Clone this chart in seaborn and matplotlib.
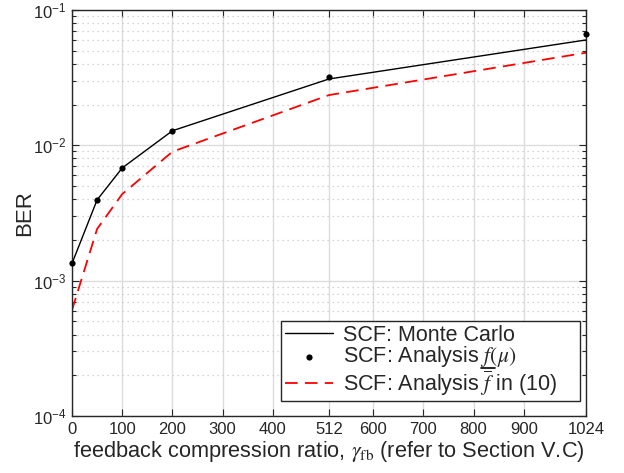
import matplotlib
matplotlib.use("Agg")
import matplotlib.pyplot as plt
import seaborn as sns
import pandas as pd
from matplotlib.ticker import LogLocator, FixedLocator, NullFormatter
from matplotlib.text import Text
from matplotlib.lines import Line2D

sns.set_theme(style="white")
plt.rcParams['font.family'] = ['Liberation Sans', 'DejaVu Sans']
plt.rcParams['mathtext.fontset'] = 'stix'

ratio = [0, 50, 100, 200, 512, 1024]
mc_line = [1.34e-3, 3.95e-3, 6.8e-3, 1.28e-2, 3.09e-2, 6.0e-2]
mc_points = [1.34e-3, 3.95e-3, 6.8e-3, 1.28e-2, 3.19e-2, 6.65e-2]
analysis_bar = [6.07e-4, 2.41e-3, 4.36e-3, 8.97e-3, 2.35e-2, 4.83e-2]
xticks = [0, 100, 200, 300, 400, 512, 600, 700, 800, 900, 1024]

df = pd.DataFrame({"ratio": ratio, "mc": mc_line, "pts": mc_points, "bar": analysis_bar})

fig = plt.figure(figsize=(6.24, 4.73), dpi=100)
ax = fig.add_axes([0.1154, 0.1205, 0.8237, 0.8585])
ax.set_yscale('log')

sns.lineplot(data=df, x="ratio", y="mc", ax=ax, color="black", linewidth=1.0,
             label="SCF: Monte Carlo")
sns.scatterplot(data=df, x="ratio", y="pts", ax=ax, color="black", s=20,
                edgecolor="black", linewidth=0, label=r"SCF: Analysis $f(\mu)$", zorder=5, clip_on=False)
sns.lineplot(data=df, x="ratio", y="bar", ax=ax, color="red", linewidth=1.3,
             linestyle=(0, (7, 4)), label=r"SCF: Analysis $\overline{f}$ in (10)    ")

ax.set_xlim(0, 1024)
ax.set_ylim(1e-4, 1e-1)
ax.xaxis.set_major_locator(FixedLocator(xticks))
ax.set_xticklabels([str(t) for t in xticks])
ax.yaxis.set_major_locator(LogLocator(base=10, numticks=10))
ax.yaxis.set_minor_locator(LogLocator(base=10, subs=range(2, 10), numticks=50))
ax.yaxis.set_minor_formatter(NullFormatter())

ax.grid(True, which='major', color='#dcdcdc', linewidth=1.0, linestyle='-')
ax.grid(True, which='minor', axis='y', color='#c8c8c8', linewidth=0.9, linestyle=(0, (1, 3)))
ax.set_axisbelow(True)

for s in ax.spines.values():
    s.set_color('#262626')
    s.set_linewidth(1.0)
    s.set_visible(True)

ax.tick_params(which='both', direction='in', top=True, right=True, bottom=True, left=True,
               colors='#262626', labelsize=12, width=0.8)
ax.tick_params(which='major', length=5, pad=4)
ax.tick_params(which='minor', length=3)

ax.set_xlabel(r"feedback compression ratio, $\gamma_{\mathrm{fb}}$ (refer to Section V.C)",
              fontsize=15.7, color='#262626', labelpad=2)
ax.set_ylabel("BER", fontsize=16, color='#262626')
ax.yaxis.set_label_coords(-0.072, 0.5)

h, l = ax.get_legend_handles_labels()
leg = ax.legend(h, l, loc='lower right', bbox_to_anchor=(0.988, 0.037), fontsize=15.5,
                frameon=True, fancybox=False,
                edgecolor='#262626', framealpha=1, handlelength=2.25, handletextpad=0.45,
                borderpad=0.15, labelspacing=-0.05, borderaxespad=0.0)
leg.get_frame().set_linewidth(1.0)

# underline the f in the second legend entry (mathtext has no \underline)
fig.canvas.draw()
renderer = fig.canvas.get_renderer()
t = leg.get_texts()[1]
bb = t.get_window_extent(renderer)
probe = Text(0, 0, "SCF: Analysis ", fontproperties=t.get_fontproperties())
probe.set_figure(fig)
w_pre = probe.get_window_extent(renderer).width
probe_f = Text(0, 0, r"$f$", fontproperties=t.get_fontproperties())
probe_f.set_figure(fig)
w_f = probe_f.get_window_extent(renderer).width
x0 = bb.x0 + w_pre - 2
x1 = x0 + w_f
y = bb.y0 + 1
fig.add_artist(Line2D([x0 / fig.bbox.width, x1 / fig.bbox.width],
                      [y / fig.bbox.height, y / fig.bbox.height],
                      transform=fig.transFigure, color='black', linewidth=1.2, zorder=10))

fig.savefig("out.png", dpi=100)
